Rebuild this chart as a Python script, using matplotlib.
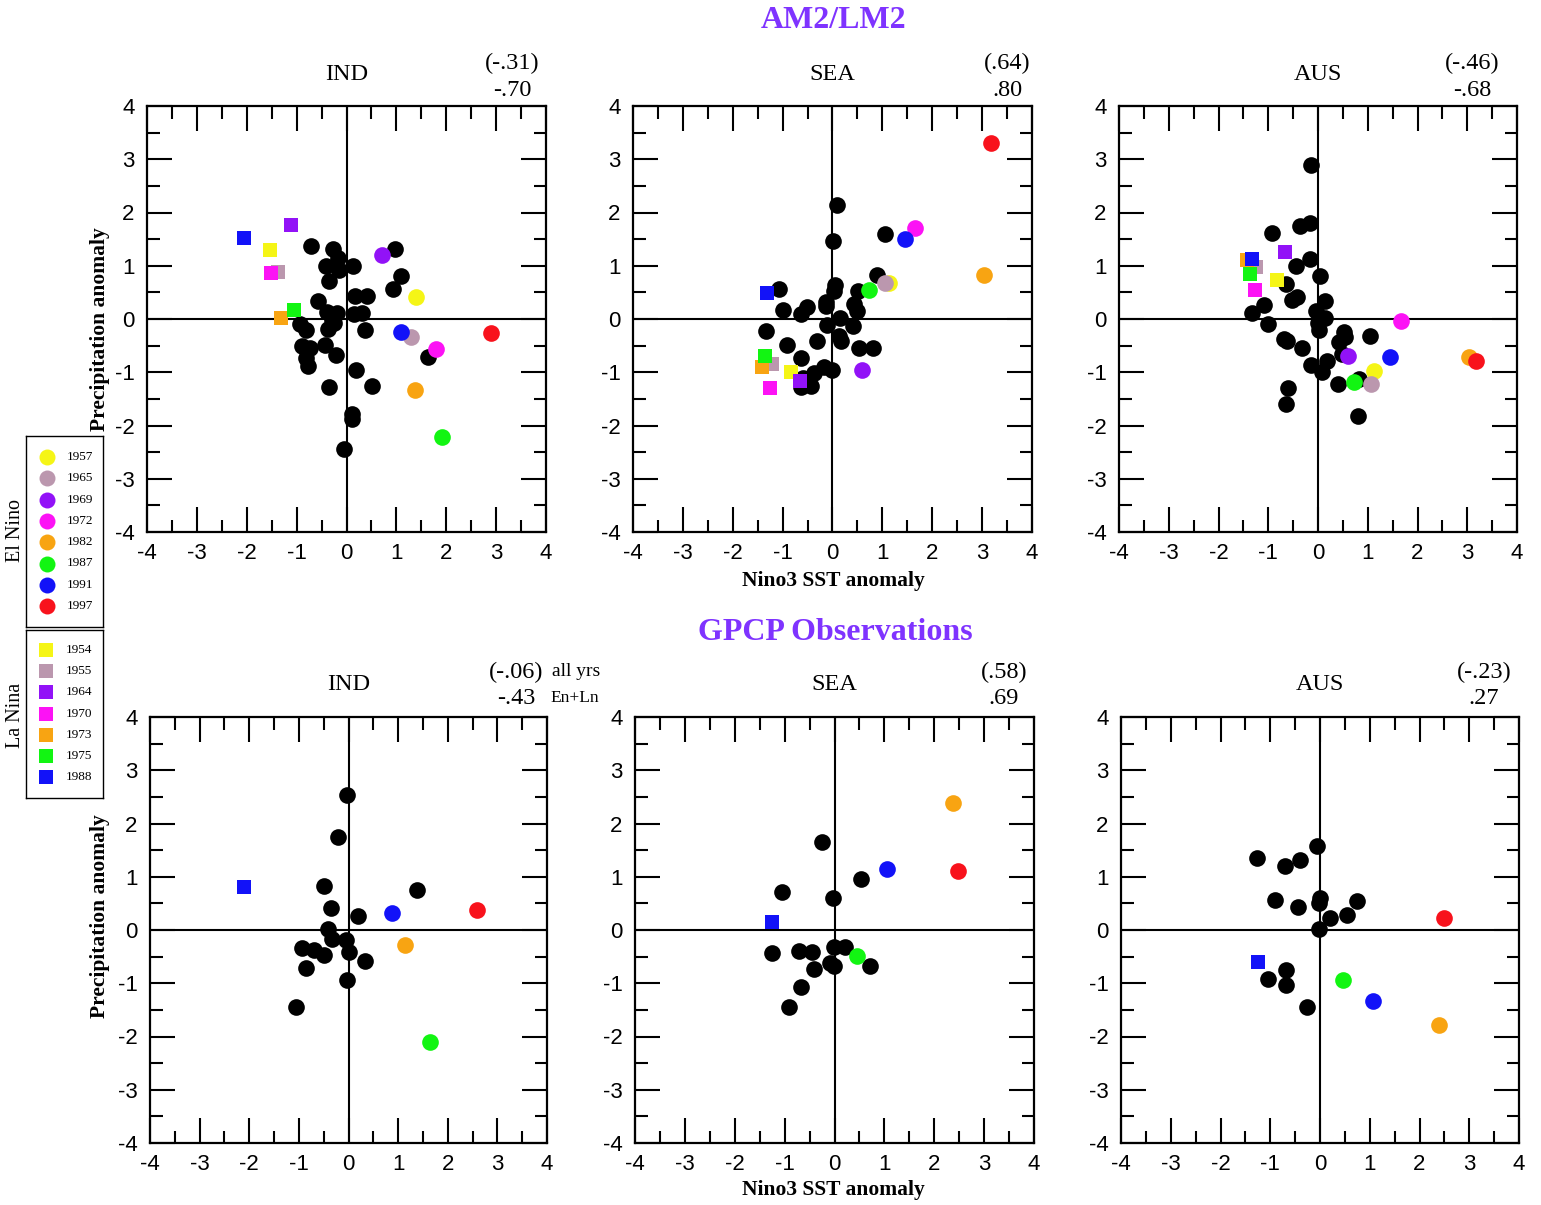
import matplotlib
matplotlib.use('Agg')
import matplotlib.pyplot as plt
from matplotlib.ticker import MultipleLocator

plt.rcParams['axes.unicode_minus'] = False

# ---- legend years / colours ----
EN_YEARS = ['1957', '1965', '1969', '1972', '1982', '1987', '1991', '1997']
EN_COLORS = ['#f5f516', '#bb97ae', '#9212f7', '#fc12f5', '#f8a412', '#12f512', '#1212f8', '#f8121c']
LN_YEARS = ['1954', '1955', '1964', '1970', '1973', '1975', '1988']
LN_COLORS = ['#f5f516', '#bb97ae', '#9212f7', '#fc12f5', '#f8a412', '#12f512', '#1212f8']

# GPCP only covers 1979+: 1982, 1987, 1991, 1997 and 1988
OBS_EN_IDX = [4, 5, 6, 7]
OBS_LN_IDX = [6]

# ---- AM2/LM2 IND ----
ind_m_x = [-0.72, -0.27, -0.17, -0.42, -0.15, 0.13, -0.36, 0.98, 1.10, 0.94, 0.18, 0.41,
           -0.58, -0.40, -0.19, -0.29, 0.15, 0.31, -0.94, -0.82, -0.37, -0.25, 0.37, -0.89,
           -0.73, -0.43, -0.21, -0.81, -0.78, 0.19, -0.35, 0.51, 0.11, 0.11, -0.05, 1.63]
ind_m_y = [1.37, 1.31, 1.14, 1.00, 0.92, 1.00, 0.71, 1.31, 0.81, 0.56, 0.43, 0.43,
           0.33, 0.13, 0.11, -0.02, 0.09, 0.12, -0.09, -0.21, -0.18, -0.07, -0.21, -0.51,
           -0.54, -0.49, -0.67, -0.74, -0.88, -0.95, -1.28, -1.26, -1.78, -1.87, -2.44, -0.71]
ind_m_en_x = [1.39, 1.30, 0.72, 1.79, 1.37, 1.91, 1.09, 2.90]
ind_m_en_y = [0.42, -0.34, 1.20, -0.56, -1.34, -2.22, -0.25, -0.27]
ind_m_ln_x = [-1.54, -1.38, -1.12, -1.52, -1.31, -1.06, -2.05]
ind_m_ln_y = [1.30, 0.88, 1.77, 0.86, 0.01, 0.16, 1.52]

# ---- AM2/LM2 SEA ----
sea_m_x = [0.09, 0.02, 1.05, 0.89, 0.51, -1.07, 0.05, 0.03, -1.00, -0.52, -0.64, -0.14,
           -0.13, 0.43, 0.49, 0.15, -0.12, 0.42, -1.33, 0.14, 0.18, -0.32, -0.91, 0.53,
           0.81, -0.63, -0.18, -0.02, -0.38, -0.44, -0.64, -0.59]
sea_m_y = [2.14, 1.46, 1.60, 0.82, 0.53, 0.56, 0.63, 0.53, 0.16, 0.23, 0.09, 0.31,
           0.24, 0.29, 0.15, 0.02, -0.12, -0.13, -0.22, -0.32, -0.41, -0.41, -0.49, -0.55,
           -0.55, -0.73, -0.90, -0.95, -1.01, -1.26, -1.27, -1.11]
sea_m_en_x = [1.14, 1.05, 0.60, 1.65, 3.04, 0.74, 1.45, 3.18]
sea_m_en_y = [0.68, 0.68, -0.95, 1.70, 0.82, 0.54, 1.51, 3.31]
sea_m_ln_x = [-0.84, -1.21, -0.66, -1.26, -1.41, -1.36, -1.32]
sea_m_ln_y = [-1.00, -0.85, -1.16, -1.30, -0.91, -0.69, 0.48]

# ---- AM2/LM2 AUS ----
aus_m_x = [-0.14, -0.37, -0.17, -0.92, -0.16, -0.45, 0.05, -0.64, -0.52, -0.43, 0.14, -1.09,
           -1.33, -0.05, 0.15, -0.01, 0.03, -1.00, 0.53, 0.54, 0.43, -0.69, -0.62, -0.32,
           1.05, 0.49, 0.18, -0.15, 0.09, -0.60, -0.64, 0.41, 0.80, 0.83]
aus_m_y = [2.89, 1.74, 1.80, 1.61, 1.13, 1.00, 0.80, 0.65, 0.36, 0.41, 0.33, 0.26,
           0.12, 0.15, 0.02, -0.08, -0.21, -0.09, -0.25, -0.34, -0.44, -0.38, -0.42, -0.54,
           -0.31, -0.66, -0.78, -0.86, -1.00, -1.30, -1.59, -1.23, -1.82, -1.13]
aus_m_en_x = [1.12, 1.06, 0.61, 1.66, 3.03, 0.73, 1.45, 3.18]
aus_m_en_y = [-0.97, -1.23, -0.69, -0.03, -0.71, -1.19, -0.71, -0.78]
aus_m_ln_x = [-0.83, -1.24, -0.66, -1.26, -1.42, -1.36, -1.33]
aus_m_ln_y = [0.73, 0.98, 1.26, 0.55, 1.10, 0.84, 1.13]

# ---- GPCP IND ----
ind_o_x = [-0.03, -0.21, -0.49, 1.39, -0.36, 0.19, -0.42, -0.34, -0.05, -0.93, -0.70,
           -0.50, 0.01, 0.33, -0.86, -0.04, -1.05]
ind_o_y = [2.54, 1.74, 0.82, 0.75, 0.42, 0.26, 0.01, -0.17, -0.18, -0.33, -0.38,
           -0.47, -0.42, -0.59, -0.72, -0.94, -1.45]
ind_o_en_x = [1.13, 1.64, 0.88, 2.59]
ind_o_en_y = [-0.29, -2.11, 0.31, 0.38]
ind_o_ln_x = [-2.10]
ind_o_ln_y = [0.81]

# ---- GPCP SEA ----
sea_o_x = [-0.26, 0.54, -1.05, -0.03, -1.26, -0.71, -0.45, -0.02, 0.21, -0.09, -0.01,
           0.72, -0.42, -0.68, -0.91]
sea_o_y = [1.65, 0.95, 0.71, 0.60, -0.43, -0.40, -0.41, -0.32, -0.32, -0.62, -0.68,
           -0.68, -0.74, -1.07, -1.45]
sea_o_en_x = [2.37, 0.45, 1.05, 2.48]
sea_o_en_y = [2.38, -0.49, 1.14, 1.10]
sea_o_ln_x = [-1.25]
sea_o_ln_y = [0.15]

# ---- GPCP AUS ----
aus_o_x = [-0.07, -1.26, -0.70, -0.41, -0.91, -0.44, 0.01, -0.02, 0.74, 0.55, 0.21,
           -0.02, -0.68, -1.05, -0.68, -0.26]
aus_o_y = [1.58, 1.35, 1.21, 1.32, 0.56, 0.43, 0.61, 0.51, 0.54, 0.29, 0.22,
           0.01, -0.75, -0.92, -1.03, -1.45]
aus_o_en_x = [2.39, 0.47, 1.06, 2.50]
aus_o_en_y = [-1.79, -0.93, -1.33, 0.23]
aus_o_ln_x = [-1.25]
aus_o_ln_y = [-0.61]

# correlations: (all years) and El Nino + La Nina years
corr_all = ['(-.31)', '(.64)', '(-.46)', '(-.06)', '(.58)', '(-.23)']
corr_enln = ['-.70', '.80', '-.68', '-.43', '.69', '.27']
regions = ['IND', 'SEA', 'AUS', 'IND', 'SEA', 'AUS']

PURPLE = '#7f33ff'
SERIF = 'Liberation Serif'
SANS = 'Liberation Sans'

W, H = 1541, 1205
fig = plt.figure(figsize=(W / 100, H / 100), dpi=100)


def fx(px):
    return px / W


def fy(py):
    return 1 - py / H


# axes boxes in pixels: left, top, right, bottom
boxes = [(147, 106, 546, 532), (633, 106, 1032, 532), (1119, 106, 1517, 532),
         (150, 717, 547, 1143), (635, 717, 1034, 1143), (1121, 717, 1519, 1143)]
corr_cx = [512, 1007, 1472, 516, 1004, 1484]

panels = [
    (ind_m_x, ind_m_y, ind_m_en_x, ind_m_en_y, ind_m_ln_x, ind_m_ln_y, False),
    (sea_m_x, sea_m_y, sea_m_en_x, sea_m_en_y, sea_m_ln_x, sea_m_ln_y, False),
    (aus_m_x, aus_m_y, aus_m_en_x, aus_m_en_y, aus_m_ln_x, aus_m_ln_y, False),
    (ind_o_x, ind_o_y, ind_o_en_x, ind_o_en_y, ind_o_ln_x, ind_o_ln_y, True),
    (sea_o_x, sea_o_y, sea_o_en_x, sea_o_en_y, sea_o_ln_x, sea_o_ln_y, True),
    (aus_o_x, aus_o_y, aus_o_en_x, aus_o_en_y, aus_o_ln_x, aus_o_ln_y, True),
]

for i, (bx, by, ex, ey, lx, ly, obs) in enumerate(panels):
    l, t, r, b = boxes[i]
    ax = fig.add_axes([fx(l), fy(b), fx(r - l), (b - t) / H])
    ax.set_xlim(-4, 4)
    ax.set_ylim(-4, 4)
    ax.axhline(0, color='black', lw=1.5, zorder=1)
    ax.axvline(0, color='black', lw=1.5, zorder=1)
    ax.plot(bx, by, 'o', color='black', ms=12, mew=0, zorder=3)
    en_idx = OBS_EN_IDX if obs else range(len(EN_YEARS))
    ln_idx = OBS_LN_IDX if obs else range(len(LN_YEARS))
    for k, j in enumerate(en_idx):
        ax.plot(ex[k], ey[k], 'o', color=EN_COLORS[j], ms=12, mew=0, zorder=4)
    for k, j in enumerate(ln_idx):
        ax.plot(lx[k], ly[k], 's', color=LN_COLORS[j], ms=10.5, mew=0, zorder=5)

    ax.xaxis.set_major_locator(MultipleLocator(1))
    ax.yaxis.set_major_locator(MultipleLocator(1))
    ax.xaxis.set_minor_locator(MultipleLocator(0.5))
    ax.yaxis.set_minor_locator(MultipleLocator(0.5))
    ax.tick_params(which='both', direction='in', top=True, right=True, width=1.5,
                   labelsize=16, colors='black')
    ax.tick_params(which='major', length=18)
    ax.tick_params(which='minor', length=9)
    ax.tick_params(axis='x', pad=8)
    ax.tick_params(axis='y', pad=9)
    for lab in ax.get_xticklabels() + ax.get_yticklabels():
        lab.set_fontfamily(SANS)
    for sp in ax.spines.values():
        sp.set_linewidth(1.6)

    cx = (l + r) / 2
    ty = 74 if i < 3 else 685
    fig.text(fx(cx), fy(ty), regions[i], ha='center', va='center',
             fontsize=17.5, family=SERIF)
    c1 = 63 if i < 3 else 672
    c2 = 90 if i < 3 else 699
    fig.text(fx(corr_cx[i]), fy(c1), corr_all[i], ha='center', va='center',
             fontsize=17.5, family=SERIF)
    fig.text(fx(corr_cx[i]), fy(c2), corr_enln[i], ha='center', va='center',
             fontsize=17.5, family=SERIF)

# annotation of the correlation lines
fig.text(fx(552), fy(671), 'all yrs', ha='left', va='center', fontsize=14, family=SERIF)
fig.text(fx(550), fy(698), 'En+Ln', ha='left', va='center', fontsize=12.5, family=SERIF)

# section titles
fig.text(fx(834), fy(21), 'AM2/LM2', ha='center', va='center', fontsize=23,
         fontweight='bold', color=PURPLE, family=SERIF)
fig.text(fx(835), fy(632), 'GPCP Observations', ha='center', va='center', fontsize=23,
         fontweight='bold', color=PURPLE, family=SERIF)

# axis labels
for yc in (329, 916):
    fig.text(fx(100), fy(yc), 'Precipitation anomaly', ha='center', va='center',
             rotation=90, fontsize=15.5, fontweight='bold', family=SERIF)
for yc in (581, 1190):
    fig.text(fx(833), fy(yc), 'Nino3 SST anomaly', ha='center', va='center',
             fontsize=15.5, fontweight='bold', family=SERIF)

# legend boxes
en_ax = fig.add_axes([fx(26), fy(627), fx(103 - 26), (627 - 436) / H])
ln_ax = fig.add_axes([fx(26), fy(798), fx(103 - 26), (798 - 630) / H])
for lax, top, bot in ((en_ax, 436, 627), (ln_ax, 630, 798)):
    lax.set_xlim(26, 103)
    lax.set_ylim(bot, top)
    lax.set_xticks([])
    lax.set_yticks([])
    for sp in lax.spines.values():
        sp.set_linewidth(1.0)

for j, (yr, col) in enumerate(zip(EN_YEARS, EN_COLORS)):
    yy = 457 + j * 21.3
    en_ax.plot(47, yy, 'o', color=col, ms=11.5, mew=0)
    en_ax.text(67, yy, yr, ha='left', va='center', fontsize=9.5, family=SERIF)
for j, (yr, col) in enumerate(zip(LN_YEARS, LN_COLORS)):
    yy = 650 + j * 21.2
    ln_ax.plot(46, yy, 's', color=col, ms=10, mew=0)
    ln_ax.text(66, yy, yr, ha='left', va='center', fontsize=9.5, family=SERIF)

fig.text(fx(16), fy(530), 'El Nino', ha='center', va='center', rotation=90,
         fontsize=14.5, family=SERIF)
fig.text(fx(16), fy(715), 'La Nina', ha='center', va='center', rotation=90,
         fontsize=14.5, family=SERIF)

fig.savefig('out.png', dpi=100)
